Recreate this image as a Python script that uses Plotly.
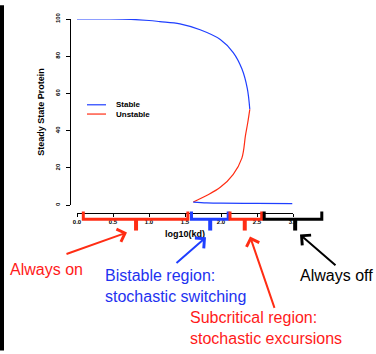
import plotly.graph_objects as go

# Steady-state protein level versus log10(kd): upper stable branch,
# unstable (saddle) branch and lower stable branch.
upper_x = [0.0, 0.4, 0.75, 1.0, 1.15, 1.43, 1.71, 1.99, 2.17, 2.29, 2.365, 2.40]
upper_y = [100, 100, 99.8, 99.2, 98.6, 97.4, 94.2, 89.0, 82.0, 73.3, 62.8, 51.5]

unstable_x = [2.40, 2.37, 2.34, 2.29, 2.17, 1.99, 1.80, 1.615]
unstable_y = [51.5, 44.0, 37.5, 25.3, 16.6, 9.6, 5.2, 1.7]

lower_x = [1.615, 1.8, 2.0, 2.5, 2.99]
lower_y = [1.7, 1.3, 1.1, 1.0, 0.9]

x_ticks = [0.0, 0.5, 1.0, 1.5, 2.0, 2.5, 3.0]
y_ticks = [0, 20, 40, 60, 80, 100]

# Regions along log10(kd): (start, end, label tick position, colour)
regions = [
    (0.0875, 1.54, 0.82, "#ff2d14"),
    (1.59, 2.10, 1.85, "#1f3fff"),
    (2.125, 2.565, 2.33, "#ff2d14"),
    (2.60, 3.40, 3.03, "#000000"),
]

BLUE = "#1f3fff"
RED = "#ff2d14"
TXT_RED = "#ff1a1a"
TXT_BLUE = "#1e32f0"

W, H = 376, 354
L, R, T, B = 70, 83, 14, 141
PW, PH = W - L - R, H - T - B
XDOM0 = 7 / PW
YDOM0 = 8 / PH
X_MAX = 3.0


def px_x(px):
    return (px - L) / PW


def px_y(py):
    return (H - B - py) / PH


def data_x(v):
    return XDOM0 + v / X_MAX * (1 - XDOM0)


fig = go.Figure()
fig.add_trace(go.Scatter(x=upper_x, y=upper_y, mode="lines", name="Stable",
                         line=dict(color=BLUE, width=1.2, shape="spline")))
fig.add_trace(go.Scatter(x=unstable_x, y=unstable_y, mode="lines", name="Unstable",
                         line=dict(color=RED, width=1.2, shape="spline")))
fig.add_trace(go.Scatter(x=lower_x, y=lower_y, mode="lines", name="Stable",
                         line=dict(color=BLUE, width=1.2, shape="spline")))

shapes = []
# black bar along the left edge
shapes.append(dict(type="rect", xref="paper", yref="paper",
                   x0=px_x(0), x1=px_x(4), y0=px_y(H), y1=px_y(0),
                   fillcolor="black", line=dict(width=0), layer="above"))

# region brackets under the axis
top, bot, tip = px_y(211.5), px_y(219.5), px_y(231)
for a, b, c, col in regions:
    xa, xb, xc = data_x(a), data_x(b), data_x(c)
    shapes.append(dict(type="path", xref="paper", yref="paper",
                       path=f"M{xa},{top} L{xa},{bot} L{xb},{bot} L{xb},{top}",
                       line=dict(color=col, width=3), layer="above"))
    shapes.append(dict(type="line", xref="paper", yref="paper",
                       x0=xc, x1=xc, y0=bot, y1=tip,
                       line=dict(color=col, width=4), layer="above"))

# legend samples
legend_rows = [(102.0, BLUE, "Stable"), (111.5, RED, "Unstable")]
for yy, col, _ in legend_rows:
    shapes.append(dict(type="line", xref="paper", yref="paper",
                       x0=px_x(87), x1=px_x(106), y0=px_y(yy), y1=px_y(yy),
                       line=dict(color=col, width=1.2)))

bold = dict(family="Liberation Sans, Arial, sans-serif", weight="bold", color="black")
plain = "Liberation Sans, Arial, Helvetica, sans-serif"

annotations = []
for yy, _, name in legend_rows:
    annotations.append(dict(xref="paper", yref="paper", x=px_x(115), y=px_y(yy),
                            xanchor="left", yanchor="middle", showarrow=False,
                            borderpad=0, text=name, font=dict(bold, size=8)))

labels = [
    (8, 270.5, "Always on", TXT_RED),
    (103, 287.5, "Bistable region:<br>stochastic switching", TXT_BLUE),
    (297.5, 277.5, "Always off", "black"),
    (188, 331, "Subcritical region:<br>stochastic excursions", TXT_RED),
]
for x0, yc, txt, col in labels:
    annotations.append(dict(xref="paper", yref="paper", x=px_x(x0), y=px_y(yc),
                            xanchor="left", yanchor="middle", align="left",
                            showarrow=False, text=txt,
                            font=dict(family=plain, size=16, color=col)))

arrows = [
    (127, 233, -62, 22, RED),
    (206, 238, -31, 27, BLUE),
    (250, 237, 25, 73, RED),
    (300, 235, 37, 32, "black"),
]
for hx, hy, ax, ay, col in arrows:
    annotations.append(dict(xref="paper", yref="paper", x=px_x(hx), y=px_y(hy),
                            ax=ax, ay=ay, text="", showarrow=True,
                            arrowhead=4, arrowsize=1.3, arrowwidth=2,
                            arrowcolor=col))

fig.update_layout(
    width=W, height=H,
    margin=dict(l=L, r=R, t=T, b=B, pad=0),
    paper_bgcolor="white", plot_bgcolor="white",
    showlegend=False,
    shapes=shapes, annotations=annotations,
    xaxis=dict(range=[0, X_MAX], domain=[XDOM0, 1], anchor="free", position=0,
               showline=True, linecolor="black", linewidth=1,
               ticks="outside", ticklen=3, tickcolor="black", tickwidth=1,
               tickvals=x_ticks, ticktext=[f"{v:.1f}" for v in x_ticks],
               tickfont=dict(bold, size=6), showgrid=False, zeroline=False,
               title=dict(text="log10(kd)", font=dict(bold, size=9), standoff=6)),
    yaxis=dict(range=[0, 100], domain=[YDOM0, 1], anchor="free", position=0,
               showline=True, linecolor="black", linewidth=1.4,
               ticks="outside", ticklen=4, tickcolor="black", tickwidth=1.3,
               tickvals=y_ticks, tickangle=-90, ticklabelstandoff=3,
               tickfont=dict(bold, size=6), showgrid=False, zeroline=False,
               title=dict(text="Steady State Protein", font=dict(bold, size=9), standoff=8)),
)

fig.write_html("out.html")
